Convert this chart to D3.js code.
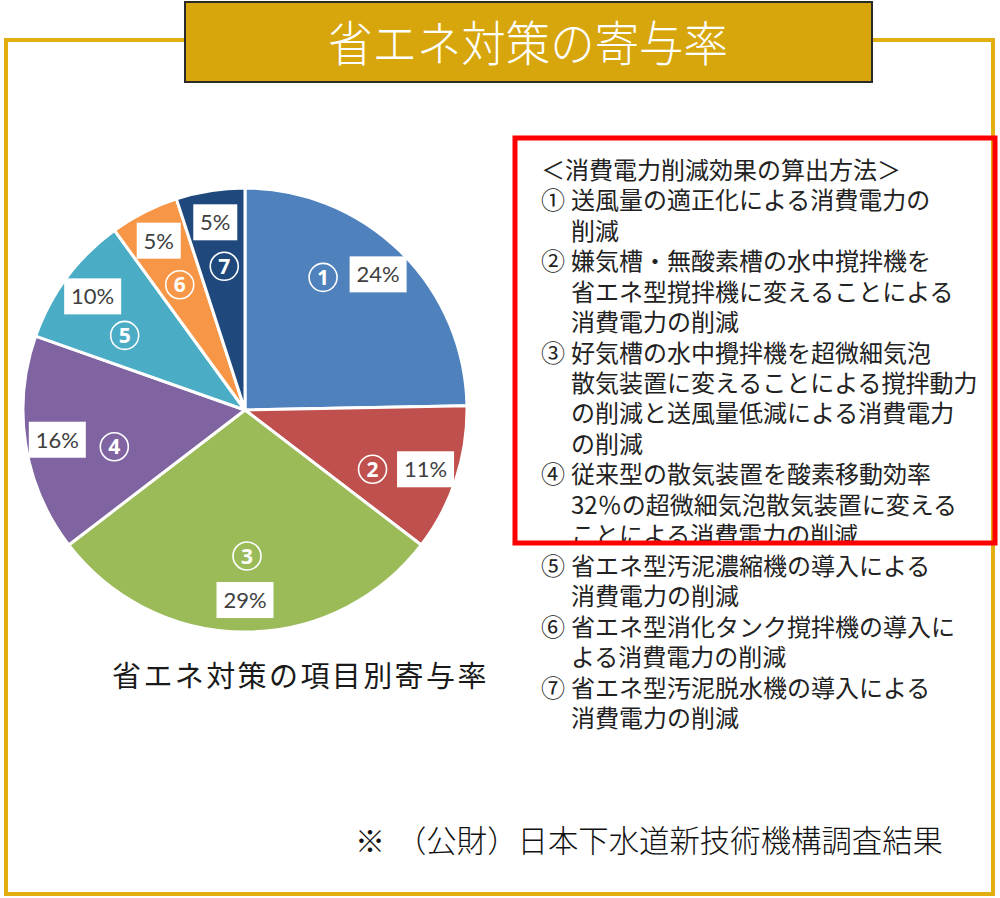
<!DOCTYPE html>
<html>
<head>
<meta charset="utf-8">
<script src="https://cdn.jsdelivr.net/npm/d3@7"></script>
<style>
  html, body { margin: 0; padding: 0; background: #fff; }
  svg { display: block; }
</style>
</head>
<body>
<svg id="chart" width="1000" height="898"></svg>
<script>
// data (slice sizes,
// the printed labels are the rounded values)
const itemNumbers = ['1', '2', '3', '4', '5', '6', '7'];
const shares = [24.7, 10.7, 29.2, 15.8, 9.6, 5.0, 5.0];
const shareLabels = ['24%', '11%', '29%', '16%', '10%', '5%', '5%'];
const sliceColors = ['#4F81BD', '#C0504D', '#9BBB59', '#8064A2', '#4BACC6', '#F79646', '#1F497D'];

const titleText = '省エネ対策の寄与率';
const captionText = '省エネ対策の項目別寄与率';
const noteMark = '※';
const noteText = '（公財）日本下水道新技術機構調査結果';

const methodHeader = '＜消費電力削減効果の算出方法＞';
const methodMarks = ['①', '②', '③', '④', '⑤', '⑥', '⑦'];
const methodTexts = [
  ['送風量の適正化による消費電力の', '削減'],
  ['嫌気槽・無酸素槽の水中撹拌機を', '省エネ型撹拌機に変えることによる', '消費電力の削減'],
  ['好気槽の水中攪拌機を超微細気泡', '散気装置に変えることによる撹拌動力', 'の削減と送風量低減による消費電力', 'の削減'],
  ['従来型の散気装置を酸素移動効率', '32％の超微細気泡散気装置に変える', 'ことによる消費電力の削減'],
  ['省エネ型汚泥濃縮機の導入による', '消費電力の削減'],
  ['省エネ型消化タンク撹拌機の導入に', 'よる消費電力の削減'],
  ['省エネ型汚泥脱水機の導入による', '消費電力の削減']
];

// where each circled number sits relative to its % box (hand placed in the original)
const numberOffsets = [[-55, 3], [-53, 0], [2, -44], [57, 7], [32, 39], [21, 44], [9, 44]];

const JP = '"Noto Sans CJK JP", "Noto Sans", sans-serif';
const svg = d3.select('#chart');

// outer gold frame
svg.append('rect')
  .attr('x', 6).attr('y', 40)
  .attr('width', 987).attr('height', 854)
  .attr('fill', 'none')
  .attr('stroke', '#E3AE10')
  .attr('stroke-width', 4);

// title box
svg.append('rect')
  .attr('x', 185).attr('y', 2)
  .attr('width', 687).attr('height', 80)
  .attr('fill', '#D7A50C')
  .attr('stroke', '#2a2a2a')
  .attr('stroke-width', 2);

svg.append('text')
  .attr('x', 528).attr('y', 43 + 48 * 0.37)
  .attr('text-anchor', 'middle')
  .attr('font-family', JP)
  .attr('font-weight', 300)
  .attr('font-size', 48)
  .attr('textLength', 400)
  .attr('lengthAdjust', 'spacingAndGlyphs')
  .attr('fill', '#fff')
  .text(titleText);

// pie
const cx = 245, cy = 410, radius = 222;
const pie = d3.pie().sort(null).value(d => d);
const arc = d3.arc().innerRadius(0).outerRadius(radius);
const labelArc = d3.arc().innerRadius(radius * 0.856).outerRadius(radius * 0.856);
const arcs = pie(shares);

const g = svg.append('g').attr('transform', 'translate(' + cx + ',' + cy + ')');

g.selectAll('path.slice')
  .data(arcs)
  .enter().append('path')
  .attr('class', 'slice')
  .attr('d', arc)
  .attr('fill', (d, i) => sliceColors[i])
  .attr('stroke', '#fff')
  .attr('stroke-width', 3)
  .attr('stroke-linejoin', 'round');

const labels = g.selectAll('g.lbl')
  .data(arcs)
  .enter().append('g')
  .attr('class', 'lbl')
  .attr('transform', d => 'translate(' + labelArc.centroid(d) + ')');

labels.each(function(d, i){
  const lg = d3.select(this);
  const w = shareLabels[i].length > 2 ? 57 : 44;
  lg.append('rect')
    .attr('x', -w / 2).attr('y', -18)
    .attr('width', w).attr('height', 36)
    .attr('fill', '#fff');
  lg.append('text')
    .attr('x', 0).attr('y', 8)
    .attr('text-anchor', 'middle')
    .attr('font-family', 'Lato, "Open Sans", sans-serif')
    .attr('font-size', 22)
    .attr('fill', '#404040')
    .text(shareLabels[i]);

  const off = numberOffsets[i];
  const ng = lg.append('g').attr('transform', 'translate(' + off[0] + ',' + off[1] + ')');
  ng.append('circle')
    .attr('r', 14)
    .attr('fill', 'none')
    .attr('stroke', '#fff')
    .attr('stroke-width', 1.6);
  ng.append('text')
    .attr('y', 7.5)
    .attr('text-anchor', 'middle')
    .attr('font-family', '"Noto Sans", sans-serif')
    .attr('font-weight', 700)
    .attr('font-size', 21)
    .attr('fill', '#fff')
    .text(itemNumbers[i]);
});

// caption under pie
svg.append('text')
  .attr('x', 112).attr('y', 676 + 29 * 0.37)
  .attr('font-family', JP)
  .attr('font-size', 29)
  .attr('letter-spacing', 2.4)
  .attr('fill', '#1a1a1a')
  .text(captionText);

// method list: one text per item, lines as tspans
const lineH = 30.45, fs = 24, top0 = 170;
const markX = 541, textX = 571;

svg.append('defs').append('clipPath').attr('id', 'boxclip')
  .append('rect').attr('x', 0).attr('y', 0).attr('width', 1000).attr('height', 543);

const list = svg.append('g').attr('clip-path', 'url(#boxclip)');
const rest = svg.append('g');

list.append('text')
  .attr('x', markX).attr('y', top0 + fs * 0.37)
  .attr('font-family', JP).attr('font-size', fs)
  .attr('fill', '#222')
  .text(methodHeader);

let row = 1;
methodTexts.forEach((lines, i) => {
  const holder = row >= 13 ? rest : list;
  const y0 = top0 + row * lineH + fs * 0.37;
  const t = holder.append('text')
    .attr('font-family', JP).attr('font-size', fs)
    .attr('fill', '#222');
  t.append('tspan').attr('x', markX).attr('y', y0).text(methodMarks[i]);
  lines.forEach((s, j) => {
    t.append('tspan').attr('x', textX).attr('y', y0 + j * lineH).text(s);
  });
  row += lines.length;
});

// red box
svg.append('rect')
  .attr('x', 515).attr('y', 138)
  .attr('width', 480).attr('height', 405)
  .attr('fill', 'none')
  .attr('stroke', '#FF0000')
  .attr('stroke-width', 5);

// source note
const noteY = 841 + 30 * 0.37;
svg.append('text')
  .attr('x', 355).attr('y', noteY)
  .attr('font-family', JP)
  .attr('font-weight', 300)
  .attr('font-size', 30)
  .attr('fill', '#111')
  .text(noteMark);
svg.append('text')
  .attr('x', 943).attr('y', noteY)
  .attr('text-anchor', 'end')
  .attr('font-family', JP)
  .attr('font-weight', 300)
  .attr('font-size', 30.4)
  .attr('fill', '#111')
  .text(noteText);
</script>
</body>
</html>
